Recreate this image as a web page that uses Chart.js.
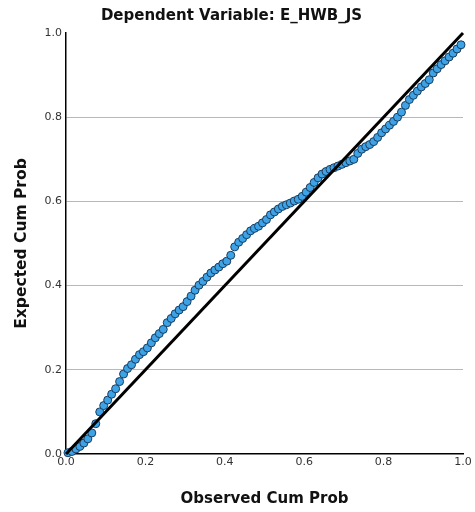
<!DOCTYPE html>
<html>
<head>
<meta charset="utf-8">
<script src="https://cdn.jsdelivr.net/npm/chart.js@4.4.1/dist/chart.umd.min.js"></script>
<style>
  html, body { margin: 0; padding: 0; background: #fff; }
  #wrap { width: 475px; height: 512px; }
</style>
</head>
<body>
<div id="wrap"><canvas id="ppChart" width="475" height="512"></canvas></div>
<script>
//------------------ Data ------------------//
const titleText = 'Dependent Variable: E_HWB_JS';
const xTitle = 'Observed Cum Prob';
const yTitle = 'Expected Cum Prob';
const tickValues = [0, 0.2, 0.4, 0.6, 0.8, 1.0];

// observed cumulative probability (x)
const observedProb = [
  0.005, 0.015, 0.025, 0.035, 0.045, 0.055, 0.065, 0.075, 0.085, 0.095,
  0.105, 0.115, 0.125, 0.135, 0.145, 0.155, 0.165, 0.175, 0.185, 0.195,
  0.205, 0.215, 0.225, 0.235, 0.245, 0.255, 0.265, 0.275, 0.285, 0.295,
  0.305, 0.315, 0.325, 0.335, 0.345, 0.355, 0.365, 0.375, 0.385, 0.395,
  0.405, 0.415, 0.425, 0.435, 0.445, 0.455, 0.465, 0.475, 0.485, 0.495,
  0.505, 0.515, 0.525, 0.535, 0.545, 0.555, 0.565, 0.575, 0.585, 0.595,
  0.605, 0.615, 0.625, 0.635, 0.645, 0.655, 0.665, 0.675, 0.685, 0.695,
  0.705, 0.715, 0.725, 0.735, 0.745, 0.755, 0.765, 0.775, 0.785, 0.795,
  0.805, 0.815, 0.825, 0.835, 0.845, 0.855, 0.865, 0.875, 0.885, 0.895,
  0.905, 0.915, 0.925, 0.935, 0.945, 0.955, 0.965, 0.975, 0.985, 0.995
];

// expected cumulative probability (y)
const expectedProb = [
  0.003, 0.006, 0.012, 0.018, 0.026, 0.036, 0.050, 0.072, 0.100, 0.115,
  0.128, 0.142, 0.155, 0.172, 0.190, 0.203, 0.212, 0.225, 0.236, 0.243,
  0.252, 0.264, 0.276, 0.286, 0.296, 0.312, 0.322, 0.333, 0.342, 0.350,
  0.362, 0.375, 0.389, 0.401, 0.410, 0.420, 0.430, 0.437, 0.444, 0.452,
  0.458, 0.472, 0.492, 0.503, 0.512, 0.521, 0.530, 0.536, 0.541, 0.549,
  0.557, 0.568, 0.575, 0.582, 0.588, 0.592, 0.596, 0.601, 0.605, 0.612,
  0.622, 0.633, 0.645, 0.656, 0.665, 0.671, 0.676, 0.680, 0.684, 0.688,
  0.692, 0.696, 0.700, 0.714, 0.724, 0.730, 0.735, 0.742, 0.752, 0.763,
  0.772, 0.781, 0.790, 0.800, 0.812, 0.828, 0.842, 0.852, 0.862, 0.872,
  0.880, 0.889, 0.905, 0.915, 0.925, 0.934, 0.943, 0.952, 0.962, 0.972
];

// reference diagonal
const diagX = [0, 1];
const diagY = [0, 1];

//------------------ Chart ------------------//
const points = observedProb.map((x, i) => ({ x: x, y: expectedProb[i] }));
const diagonal = diagX.map((x, i) => ({ x: x, y: diagY[i] }));

const fontFamily = '"DejaVu Sans", sans-serif';

const ctx = document.getElementById('ppChart').getContext('2d');
new Chart(ctx, {
  type: 'scatter',
  data: {
    datasets: [
      {
        type: 'line',
        data: diagonal,
        borderColor: '#000',
        borderWidth: 3,
        pointRadius: 0,
        fill: false,
        order: 0
      },
      {
        data: points,
        backgroundColor: '#3ea3e6',
        borderColor: '#183d60',
        borderWidth: 1,
        pointRadius: 4,
        order: 1
      }
    ]
  },
  options: {
    responsive: false,
    animation: false,
    clip: false,
    layout: { padding: { left: 0, right: 12, top: 0, bottom: 0 } },
    plugins: {
      legend: { display: false },
      tooltip: { enabled: false },
      title: {
        display: true,
        text: titleText,
        color: '#111',
        font: { family: fontFamily, size: 15, weight: 'bold' },
        padding: { top: 7, bottom: 8 }
      }
    },
    scales: {
      x: {
        type: 'linear',
        min: 0,
        max: 1,
        afterBuildTicks: s => { s.ticks = tickValues.map(v => ({ value: v })); },
        afterFit: s => { s.height = 58; },
        ticks: {
          color: '#333',
          font: { family: fontFamily, size: 11 },
          padding: 2,
          callback: v => v.toFixed(1)
        },
        grid: { display: false, drawTicks: false },
        border: { display: true, color: '#000', width: 1.5 },
        title: {
          display: true,
          text: xTitle,
          color: '#111',
          font: { family: fontFamily, size: 15, weight: 'bold' },
          padding: { top: 14 }
        }
      },
      y: {
        type: 'linear',
        min: 0,
        max: 1,
        afterBuildTicks: s => { s.ticks = tickValues.map(v => ({ value: v })); },
        afterFit: s => { s.width = 66; },
        ticks: {
          color: '#333',
          font: { family: fontFamily, size: 11 },
          padding: 4,
          callback: v => v.toFixed(1)
        },
        grid: {
          color: ctx2 => (ctx2.tick && ctx2.tick.value > 0 && ctx2.tick.value < 1) ? '#b8b8b8' : 'rgba(0,0,0,0)',
          lineWidth: 1,
          drawTicks: false
        },
        border: { display: true, color: '#000', width: 1.5 },
        title: {
          display: true,
          text: yTitle,
          color: '#111',
          font: { family: fontFamily, size: 15.5, weight: 'bold' },
          padding: { top: 13, bottom: 0 }
        }
      }
    }
  }
});
</script>
</body>
</html>
